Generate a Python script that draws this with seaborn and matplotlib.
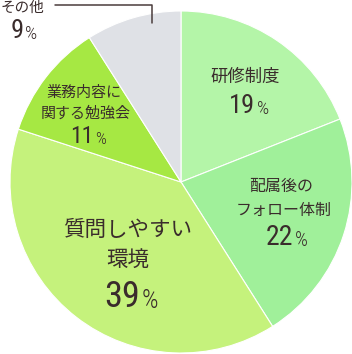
import matplotlib
matplotlib.use("Agg")
import matplotlib.pyplot as plt
import seaborn as sns

# data
categories = ["研修制度", "配属後のフォロー体制", "質問しやすい環境", "業務内容に関する勉強会", "その他"]
shares = [19, 22, 39, 11, 9]
colors = ["#b4f5a8", "#a0f09a", "#c5f27c", "#a6e843", "#dfe1e6"]

sns.set_theme(style="white")
plt.rcParams["font.family"] = ["Noto Sans CJK JP", "DejaVu Sans"]
num_font = ["Roboto Condensed", "DejaVu Sans"]
txt_color = "#3a2c2c"

fig = plt.figure(figsize=(3.52, 3.54), dpi=100)
ax = fig.add_axes([10 / 352, 1 / 354, 342 / 352, 342 / 354])
ax.pie(shares, colors=colors, startangle=90, counterclock=False,
       wedgeprops=dict(edgecolor="white", linewidth=0.8))
ax.set_xlim(-1, 1)
ax.set_ylim(-1, 1)
ax.set_aspect("equal")
ax.axis("off")

# overlay in pixel coordinates for the labels
ov = fig.add_axes([0, 0, 1, 1], facecolor="none")
ov.set_xlim(0, 352)
ov.set_ylim(354, 0)
ov.axis("off")

# label layout: text lines (x, y, size) and number (split x, baseline y, size)
layout = [
    [("研修制度", 245, 77, 12.5)], (255, 113, 19),
    [("配属後の", 281, 186, 11.5), ("フォロー体制", 284, 210, 11.5)], (293.5, 245, 20),
    [("質問しやすい", 128, 230, 15.5), ("環境", 128, 260, 15.5)], (140, 307, 26),
    [("業務内容に", 84, 93, 10.8), ("関する勉強会", 86, 113, 10.8)], (93.5, 143, 17),
    [("その他", 22, 8, 10.5)], (24, 38, 19),
]

for i, pct in enumerate(shares):
    lines = layout[2 * i]
    sx, by, size = layout[2 * i + 1]
    for text, x, y, fs in lines:
        ov.text(x, y, text, ha="center", va="center", fontsize=fs, color=txt_color)
    ov.text(sx, by, str(pct), ha="right", va="baseline", fontsize=size,
            family=num_font, fontstretch="condensed", color=txt_color)
    ov.text(sx + 1.5, by + 1, "%", ha="left", va="baseline", fontsize=size * 0.72,
            family=num_font, fontstretch="condensed", fontweight="light",
            color=txt_color)

# leader line for その他
ov.plot([55, 152, 152], [5, 5, 23], color="#4a3c3c", linewidth=1.1)

fig.savefig("out.png", dpi=100)
